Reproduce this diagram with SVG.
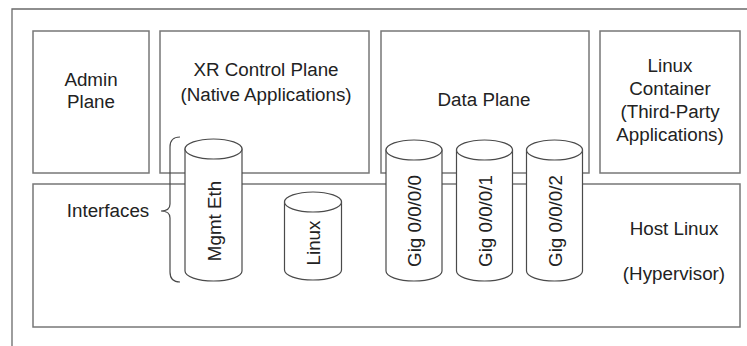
<svg xmlns="http://www.w3.org/2000/svg" width="747" height="346" viewBox="0 0 747 346">
<style>
.frame{fill:none;stroke:#6a6a6a;stroke-width:1.3}
.box{fill:none;stroke:#777;stroke-width:1.5}
.cyl{fill:#fff;stroke:#4a4a4a;stroke-width:1.2}
.brace{fill:none;stroke:#4a4a4a;stroke-width:1.2}
text{font-family:"Liberation Sans",Arial,sans-serif;font-size:18.8px;fill:#222;text-anchor:middle}
</style>
<rect width="747" height="346" fill="#fff"/>
<path class="frame" d="M12,346 L12,9 L747,9"/>
<g id="admin-plane">
<rect class="box" x="33" y="31" width="116" height="142"/>
<text x="91" y="86">Admin</text>
<text x="91" y="108">Plane</text>
</g>
<g id="xr-control-plane">
<rect class="box" x="160" y="31" width="209" height="142"/>
<text x="266" y="76">XR Control Plane</text>
<text x="266" y="101">(Native Applications)</text>
</g>
<g id="data-plane">
<rect class="box" x="381" y="31" width="208" height="142"/>
<text x="484" y="106">Data Plane</text>
</g>
<g id="linux-container">
<rect class="box" x="600" y="31" width="140" height="142"/>
<text x="670" y="72">Linux</text>
<text x="670" y="95">Container</text>
<text x="670" y="118">(Third-Party</text>
<text x="670" y="141">Applications)</text>
</g>
<g id="host-linux">
<rect class="box" x="33" y="184" width="707" height="143"/>
<text x="674" y="235">Host Linux</text>
<text x="674" y="280">(Hypervisor)</text>
</g>
<g id="interfaces">
<text x="108" y="217">Interfaces</text>
<path class="brace" d="M180,137 Q170,137 170,147 L170,204 Q170,211 161,211 Q170,211 170,218 L170,272 Q170,282 180,282"/>
</g>
<g id="mgmt-eth">
<path class="cyl" d="M185,149 L185,271 A28.5,10 0 0 0 242,271 L242,149 Z"/>
<ellipse class="cyl" cx="213.5" cy="149" rx="28.5" ry="10"/>
<text transform="translate(220.5,221) rotate(-90)">Mgmt Eth</text>
</g>
<g id="linux-if">
<path class="cyl" d="M284.5,202 L284.5,270 A28.5,10 0 0 0 341.5,270 L341.5,202 Z"/>
<ellipse class="cyl" cx="313" cy="202" rx="28.5" ry="10"/>
<text transform="translate(320,243) rotate(-90)">Linux</text>
</g>
<g id="gig-0">
<path class="cyl" d="M386,150 L386,271 A28,10 0 0 0 442,271 L442,150 Z"/>
<ellipse class="cyl" cx="414" cy="150" rx="28" ry="10"/>
<text transform="translate(421,221) rotate(-90)">Gig 0/0/0/0</text>
</g>
<g id="gig-1">
<path class="cyl" d="M456.5,150 L456.5,271 A28,10 0 0 0 512.5,271 L512.5,150 Z"/>
<ellipse class="cyl" cx="484.5" cy="150" rx="28" ry="10"/>
<text transform="translate(491.5,221) rotate(-90)">Gig 0/0/0/1</text>
</g>
<g id="gig-2">
<path class="cyl" d="M526.5,150 L526.5,271 A28,10 0 0 0 582.5,271 L582.5,150 Z"/>
<ellipse class="cyl" cx="554.5" cy="150" rx="28" ry="10"/>
<text transform="translate(561.5,221) rotate(-90)">Gig 0/0/0/2</text>
</g>
<g id="connectors"></g>
</svg>
